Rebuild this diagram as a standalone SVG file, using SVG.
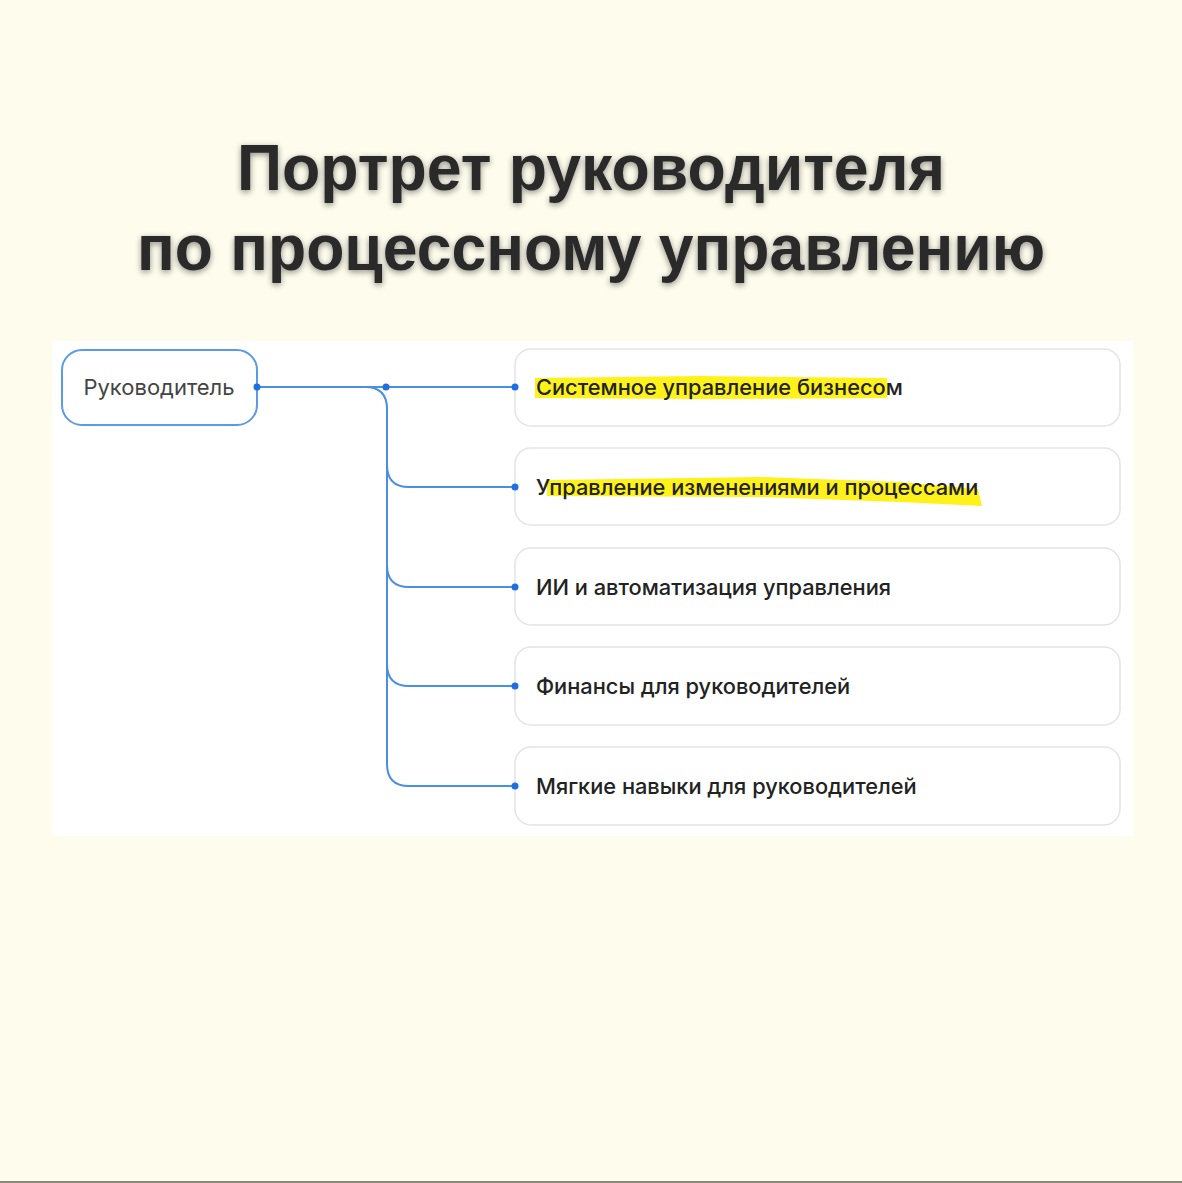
<svg xmlns="http://www.w3.org/2000/svg" width="1182" height="1183" viewBox="0 0 1182 1183">
<style>
.title{font-family:"Liberation Sans",Arial,sans-serif;font-weight:bold;font-size:64px;fill:#2a2a2a;text-anchor:middle}
.node{fill:#ffffff;stroke:#e4e4e4;stroke-width:1.5}
.root{fill:#ffffff;stroke:#5b9be6;stroke-width:2}
.lbl{font-family:Inter,"Liberation Sans",sans-serif;font-size:21.8px;font-weight:500;fill:#222222}
.rootlbl{font-family:Inter,"Liberation Sans",sans-serif;font-size:22px;fill:#444444;text-anchor:middle}
.conn{fill:none;stroke:#4a8fe2;stroke-width:2}
.dot{fill:#1f6fe0}
.hl{fill:#fff21a}
</style>
<defs>
<filter id="sh" x="-5%" y="-20%" width="110%" height="140%">
<feGaussianBlur in="SourceAlpha" stdDeviation="3"/>
<feOffset dx="0" dy="2" result="b"/>
<feComponentTransfer><feFuncA type="linear" slope="0.45"/></feComponentTransfer>
<feMerge><feMergeNode/><feMergeNode in="SourceGraphic"/></feMerge>
</filter>
</defs>
<rect width="1182" height="1183" fill="#fefcec"/>
<rect x="0" y="1181" width="1182" height="2" fill="#8a8a7a"/>
<g id="title" filter="url(#sh)">
<text class="title" x="591" y="190" textLength="708" lengthAdjust="spacingAndGlyphs">Портрет руководителя</text>
<text class="title" x="591" y="270" textLength="908" lengthAdjust="spacingAndGlyphs">по процессному управлению</text>
</g>
<rect x="52" y="341" width="1081" height="495" fill="#ffffff"/>
<g id="root">
<rect class="root" x="62" y="350" width="195" height="75" rx="20"/>
<text class="rootlbl" x="159" y="395">Руководитель</text>
</g>
<g id="n1">
<rect class="node" x="515" y="349" width="605" height="77" rx="16"/>
<path class="hl" d="M535 378 L700 376 L887 378 L887 398 L700 399 L535 398 Z"/>
<text class="lbl" x="536" y="395">Системное управление бизнесом</text>
</g>
<g id="n2">
<rect class="node" x="515" y="448" width="605" height="77" rx="16"/>
<path class="hl" d="M547 480 L760 477 L900 482 L978 489 L982 506 L900 502 L760 497 L547 496 Z"/>
<text class="lbl" x="536" y="495">Управление изменениями и процессами</text>
</g>
<g id="n3">
<rect class="node" x="515" y="548" width="605" height="77" rx="16"/>
<text class="lbl" x="536" y="595">ИИ и автоматизация управления</text>
</g>
<g id="n4">
<rect class="node" x="515" y="647" width="605" height="78" rx="16"/>
<text class="lbl" x="536" y="694">Финансы для руководителей</text>
</g>
<g id="n5">
<rect class="node" x="515" y="747" width="605" height="78" rx="16"/>
<text class="lbl" x="536" y="794">Мягкие навыки для руководителей</text>
</g>
<g id="connectors">
<path class="conn" d="M257 387 H515"/>
<path class="conn" d="M365 387 Q387 387 387 409 V764 Q387 786 409 786 H515"/>
<path class="conn" d="M387 465 Q387 487 409 487 H515"/>
<path class="conn" d="M387 565 Q387 587 409 587 H515"/>
<path class="conn" d="M387 664 Q387 686 409 686 H515"/>
<circle class="dot" cx="257" cy="387" r="3.5"/>
<circle class="dot" cx="386" cy="387" r="3.5"/>
<circle class="dot" cx="515" cy="387" r="3.5"/>
<circle class="dot" cx="515" cy="487" r="3.5"/>
<circle class="dot" cx="515" cy="587" r="3.5"/>
<circle class="dot" cx="515" cy="686" r="3.5"/>
<circle class="dot" cx="515" cy="786" r="3.5"/>
</g>
</svg>
